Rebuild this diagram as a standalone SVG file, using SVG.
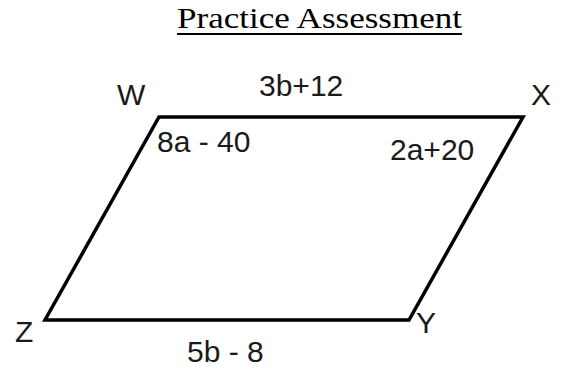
<svg xmlns="http://www.w3.org/2000/svg" width="564" height="371" viewBox="0 0 564 371">
<style>
.t{font-family:"Liberation Serif","DejaVu Serif",serif;font-size:30px;fill:#000}
.l{font-family:"Liberation Sans",Arial,sans-serif;font-size:30px;fill:#1a1a1a}
.e{fill:none;stroke:#000;stroke-width:3.5;stroke-linejoin:miter}
</style>
<rect width="564" height="371" fill="#fff"/>
<g id="title">
<text class="t" x="177" y="28" textLength="285" lengthAdjust="spacingAndGlyphs">Practice Assessment</text>
<line x1="177" y1="34" x2="462" y2="34" stroke="#000" stroke-width="2"/>
</g>
<g id="connectors">
<polygon class="e" points="159,117 523,117 409,320 45,320"/>
</g>
<g id="W"><text class="l" x="117" y="105">W</text></g>
<g id="X"><text class="l" x="531" y="105">X</text></g>
<g id="Y"><text class="l" x="416" y="333">Y</text></g>
<g id="Z"><text class="l" x="15" y="342">Z</text></g>
<g id="labels">
<text class="l" x="259" y="96">3b+12</text>
<text class="l" x="157" y="152">8a - 40</text>
<text class="l" x="390" y="160">2a+20</text>
<text class="l" x="187" y="362">5b - 8</text>
</g>
</svg>
